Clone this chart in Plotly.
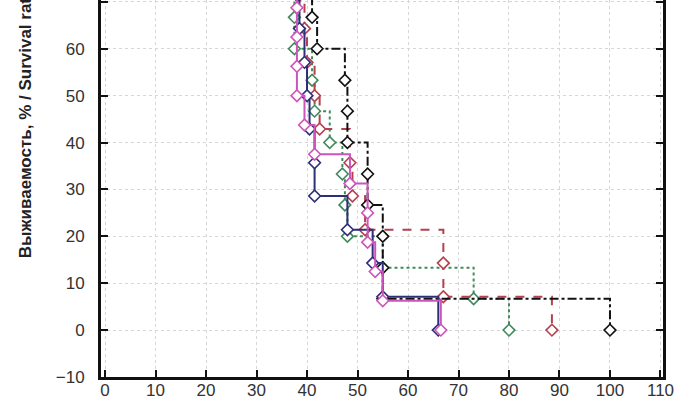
import plotly.graph_objects as go

# Kaplan-Meier style survival curves (time, survival %)
black_t = [0, 38, 39, 40, 40.5, 41, 42, 47.5, 48, 48, 52, 52, 55, 55, 55, 100]
black_s = [100, 93.3, 86.7, 80, 73.3, 66.7, 60, 53.3, 46.7, 40, 33.3, 26.7, 20, 13.3, 6.7, 0]

red_t = [0, 37, 37.5, 38, 38.5, 39.5, 40, 41.5, 42.5, 48.5, 49, 51.5, 67, 67, 88.5]
red_s = [100, 92.9, 85.7, 78.6, 71.4, 64.3, 57.1, 50, 42.9, 35.7, 28.6, 21.4, 14.3, 7.1, 0]

green_t = [0, 37, 37, 37.5, 37.5, 37.5, 37.5, 41, 41.5, 44.5, 47, 47.5, 48, 55, 73, 80]
green_s = [100, 93.3, 86.7, 80, 73.3, 66.7, 60, 53.3, 46.7, 40, 33.3, 26.7, 20, 13.3, 6.7, 0]

blue_t = [0, 36.5, 37, 37.5, 38, 38.5, 39.5, 40, 40.5, 41.5, 41.5, 48, 53, 55, 66]
blue_s = [100, 92.9, 85.7, 78.6, 71.4, 64.3, 57.1, 50, 42.9, 35.7, 28.6, 21.4, 14.3, 7.1, 0]

mag_t = [0, 36, 36.5, 37, 37.5, 38, 38, 38, 38, 39.5, 41.5, 48.5, 52, 52, 53.5, 55, 66.5]
mag_s = [100, 93.75, 87.5, 81.25, 75, 68.75, 62.5, 56.25, 50, 43.75, 37.5, 31.25, 25, 18.75, 12.5, 6.25, 0]

x_ticks = list(range(0, 111, 10))
y_ticks = list(range(-10, 71, 10))

series = [
    (green_t, green_s, "#3f8a5c", "dot"),
    (red_t, red_s, "#b5404e", "dash"),
    (black_t, black_s, "#111111", "dashdot"),
    (blue_t, blue_s, "#2d2f78", "solid"),
    (mag_t, mag_s, "#cc55bb", "solid"),
]

fig = go.Figure()
for t, s, col, dash in series:
    fig.add_trace(go.Scatter(
        x=t, y=s, mode="lines+markers", line_shape="hv",
        line=dict(color=col, width=2, dash=dash),
        marker=dict(symbol="diamond", size=9, color="white",
                    line=dict(color=col, width=1.6)),
        showlegend=False,
    ))

font = "Liberation Sans Narrow, Arial Narrow, Liberation Sans, sans-serif"

fig.add_annotation(
    text="<b>Выживаемость, % / Survival rate, %</b>",
    xref="paper", yref="paper", x=-0.135, y=0.31,
    xanchor="center", yanchor="bottom", textangle=-90, showarrow=False,
    font=dict(family=font, size=17, color="#222"),
)

fig.update_xaxes(
    range=[-0.8, 110.5], tickvals=x_ticks, ticks="inside", ticklen=7,
    tickwidth=2, tickcolor="#111", showline=True, linewidth=3, linecolor="#111",
    mirror=False, showgrid=True, gridcolor="#d6d6d6", griddash="dot",
    gridwidth=1, zeroline=False, ticklabelstandoff=-4, automargin=False,
    tickfont=dict(family=font, size=17, color="#333"),
)
fig.update_yaxes(
    range=[-10, 70.4], tickvals=y_ticks, ticks="inside", ticklen=7,
    tickwidth=2, tickcolor="#111", showline=True, linewidth=3, linecolor="#111",
    mirror="ticks", showgrid=True, gridcolor="#d6d6d6", griddash="dot",
    gridwidth=1, zeroline=False, ticklabelstandoff=10, automargin=False,
    tickfont=dict(family=font, size=17, color="#333"),
)

fig.update_layout(
    width=700, height=400,
    margin=dict(l=101, r=37, t=0, b=23),
    plot_bgcolor="white", paper_bgcolor="white",
)

# drop the default page margin so the figure sits at the window's corner
fig.write_html("out.html", config={"displayModeBar": False},
               post_script="document.body.style.margin='0';")
